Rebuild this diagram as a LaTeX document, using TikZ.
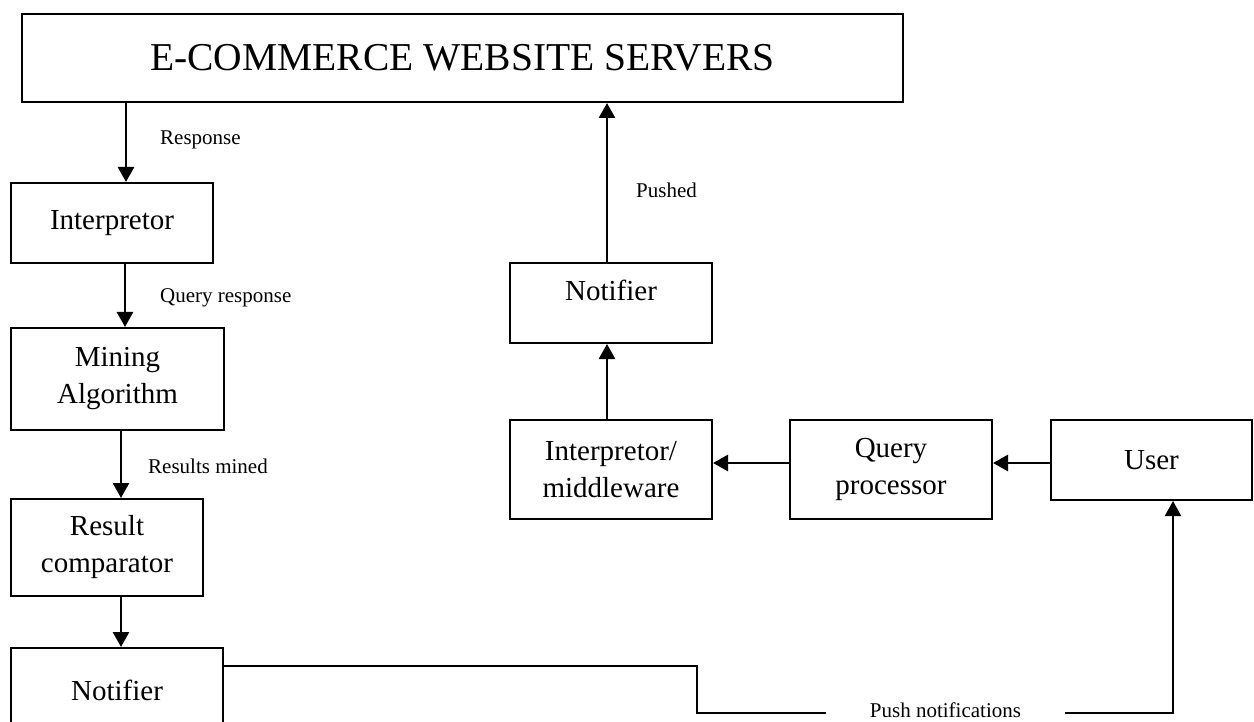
\documentclass[tikz,border=0pt]{standalone}
\usepackage{fontspec}
\setmainfont{Liberation Serif}
\usetikzlibrary{arrows.meta,calc}
\begin{document}
\begin{tikzpicture}[x=1pt,y=-1pt,
  box/.style={draw, line width=2pt, inner sep=0pt, align=center,
              font=\fontsize{29}{37}\selectfont},
  arr/.style={line width=2.6pt, -{Triangle[width=16pt,length=15pt]}},
  wire/.style={line width=1.8pt},
  lbl/.style={font=\fontsize{21}{25}\selectfont, inner sep=0pt, anchor=base west},
]
\useasboundingbox (0,0) rectangle (1254,722);
\clip (0,0) rectangle (1254,722);

% servers
\node[box, minimum width=881pt, minimum height=88pt,
      font=\fontsize{39.5}{45}\selectfont] (srv) at (462.5,58) {E-COMMERCE WEBSITE SERVERS};

% left processing chain
\node[box, minimum width=202pt, minimum height=80pt]  (interp) at (112,223)   {Interpretor};
\node[box, minimum width=213pt, minimum height=102pt] (mine)   at (117.5,379) {Mining\\Algorithm};
\node[box, minimum width=192pt, minimum height=97pt]  (cmp)    at (107,547.5) {Result\\comparator};
\node[box, minimum width=212pt, minimum height=97pt]  (nb)     at (117,696.5) {\raisebox{6pt}[\height][\depth]{Notifier}};

% right query chain
\node[box, minimum width=202pt, minimum height=80pt]  (n2)   at (611,303)    {\raisebox{13pt}[\height][\depth]{Notifier}};
\node[box, minimum width=202pt, minimum height=99pt]  (im)   at (611,469.5)  {Interpretor/\\middleware};
\node[box, minimum width=202pt, minimum height=99pt]  (qp)   at (891,469.5)  {Query\\processor};
\node[box, minimum width=201pt, minimum height=80pt]  (user) at (1151.5,460) {User};

% edge labels
\node[lbl] (lresp) at (160,145) {Response};
\node[lbl] (lqr)   at (160,303) {Query response};
\node[lbl] (lrm)   at (148,473) {Results mined};
\node[lbl] (lpsh)  at (636,198) {Pushed};
\node[lbl, anchor=center, inner xsep=44pt] (pn) at (945.5,713)
     {\raisebox{3pt}[\height][\depth]{Push notifications}};

% left chain arrows
\draw[arr] ($(interp.north |- srv.south)+(14,0)$) -- ($(interp.north)+(14,0)$);
\draw[arr] ($(interp.south)+(13,0)$) -- ($(mine.north)+(7.5,0)$);
\draw[arr] ($(mine.south)+(3.5,0)$) -- ($(cmp.north)+(14,0)$);
\draw[arr] ($(cmp.south)+(14,0)$) -- ($(nb.north)+(4,0)$);

% right chain arrows
\draw[arr] ($(user.west)+(0,3)$) -- ($(qp.east)+(0,-6.5)$);
\draw[arr] ($(qp.west)+(0,-6.5)$) -- ($(im.east)+(0,-6.5)$);
\draw[arr] ($(im.north)+(-4,0)$) -- ($(n2.south)+(-4,0)$);
\draw[arr] ($(n2.north)+(-4,0)$) -- ($(n2.north |- srv.south)+(-4,0)$);

% push notifications back to the user
\coordinate (bend) at (697,713);
\draw[wire] ($(nb.north east)+(0,19)$) -| (bend) -- (pn.west);
\draw[arr, line width=2pt] (pn.east) -| ($(user.south)+(21.5,0)$);
\end{tikzpicture}
\end{document}
